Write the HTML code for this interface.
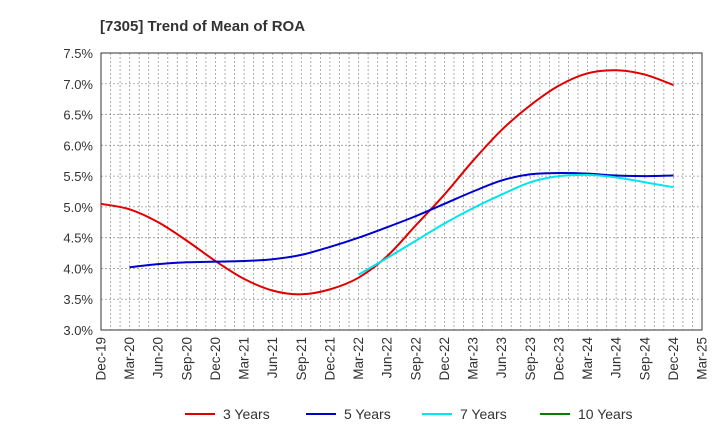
<!DOCTYPE html>
<html><head><meta charset="utf-8"><style>
body{margin:0;background:#fff;font-family:"Liberation Sans",sans-serif}
svg{display:block}
</style></head><body>
<svg id="c" width="720" height="440"></svg>
<script>
const categories=["Dec-19","Mar-20","Jun-20","Sep-20","Dec-20","Mar-21","Jun-21","Sep-21","Dec-21","Mar-22","Jun-22","Sep-22","Dec-22","Mar-23","Jun-23","Sep-23","Dec-23","Mar-24","Jun-24","Sep-24","Dec-24","Mar-25"];
const yTicks=[3.0,3.5,4.0,4.5,5.0,5.5,6.0,6.5,7.0,7.5];
const s3=[5.05,4.96,4.75,4.45,4.12,3.83,3.64,3.58,3.66,3.85,4.2,4.7,5.2,5.75,6.25,6.65,6.97,7.17,7.22,7.15,6.98];
const s5=[null,4.02,4.07,4.10,4.11,4.12,4.15,4.22,4.35,4.5,4.67,4.85,5.05,5.25,5.43,5.53,5.55,5.54,5.51,5.5,5.51];
const s7=[null,null,null,null,null,null,null,null,null,3.9,4.17,4.45,4.73,4.98,5.2,5.4,5.5,5.52,5.48,5.4,5.32];
const s10=[];
const seriesNames=["3 Years","5 Years","7 Years","10 Years"];
const colors=["#e00000","#0000cc","#00e5ee","#008000"];
const svg=document.getElementById('c');const NS="http://www.w3.org/2000/svg";
const L=101,R=702,T=53,B=330;
const x=i=>L+(R-L)*i/(categories.length-1);
const y=v=>B-(B-T)*(v-3.0)/(7.5-3.0);
function mk(t,a,p){const e=document.createElementNS(NS,t);for(const k in a)e.setAttribute(k,a[k]);(p||svg).appendChild(e);return e;}
const t=mk('text',{x:100,y:31,'font-size':15,'font-weight':'bold',fill:'#333'});t.textContent="[7305]  Trend of Mean of ROA";


const n=(categories.length-1)*3;
for(let m=1;m<n;m++){const xx=L+(R-L)*m/n;const g=mk('line',{x1:xx,x2:xx,y1:T,y2:B,stroke:'#999','stroke-width':0.8,'stroke-dasharray':'2,2'});

}
yTicks.forEach(v=>{const g=mk('line',{x1:L,x2:R,y1:y(v),y2:y(v),stroke:'#999','stroke-width':0.8,'stroke-dasharray':'2,2'});


const l=mk('text',{x:L-8,y:y(v)+5,'text-anchor':'end','font-size':13,fill:'#333'});l.textContent=v.toFixed(1)+"%";

});
const fr=mk('rect',{x:L,y:T,width:R-L,height:B-T,fill:'none',stroke:'#333','stroke-width':1});


categories.forEach((c,i)=>{const l=mk('text',{transform:`translate(${x(i)+4.5},${B+7}) rotate(-90)`,'text-anchor':'end','font-size':13.5,fill:'#333'});l.textContent=c;

});
function path(d){const p=[];d.forEach((v,i)=>{if(v!=null)p.push([x(i),y(v)]);});if(p.length<2)return "";
let s=`M${p[0][0]},${p[0][1]}`;for(let i=0;i<p.length-1;i++){const p0=p[i-1]||p[i],p1=p[i],p2=p[i+1],p3=p[i+2]||p2;
s+=` C${p1[0]+(p2[0]-p0[0])/6},${p1[1]+(p2[1]-p0[1])/6} ${p2[0]-(p3[0]-p1[0])/6},${p2[1]-(p3[1]-p1[1])/6} ${p2[0]},${p2[1]}`;}return s;}
[s3,s5,s7,s10].forEach((d,k)=>{const ps=path(d);if(!ps)return;const e=mk('path',{d:ps,fill:'none',stroke:colors[k],'stroke-width':2});

});
const lx=[185,306,422,540];
seriesNames.forEach((nm,k)=>{const g=mk('g',{});


mk('line',{x1:lx[k],x2:lx[k]+30,y1:414,y2:414,stroke:colors[k],'stroke-width':2},g);
const tx=mk('text',{x:lx[k]+38,y:419,'font-size':14,fill:'#333'},g);tx.textContent=nm;});
</script>
</body></html>
